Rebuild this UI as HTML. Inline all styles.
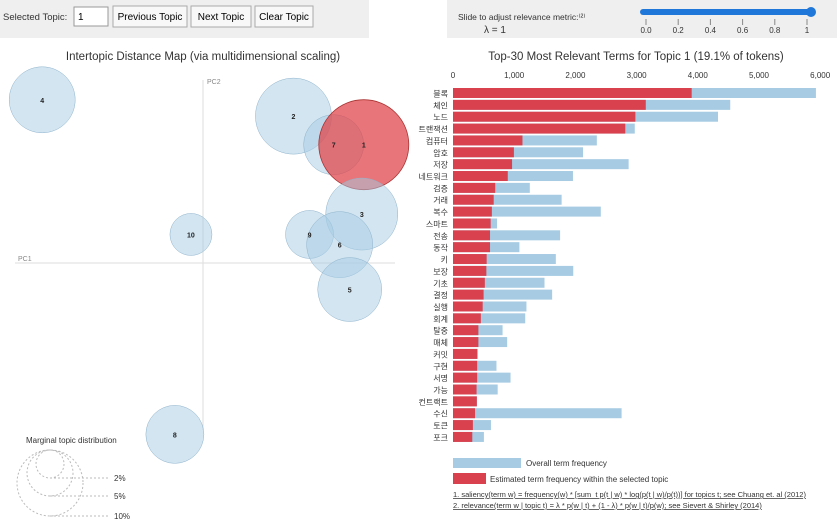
<!DOCTYPE html>
<html><head><meta charset="utf-8">
<style>
body{margin:0;width:837px;height:522px;overflow:hidden;background:#fff;font-family:"Liberation Sans","Noto Sans CJK KR",sans-serif;}
svg text{font-family:"Liberation Sans","Noto Sans CJK KR",sans-serif;}
</style></head>
<body>
<svg id="c" width="837" height="522">
  <rect x="0" y="0" width="369" height="38" fill="#efefef"/>
  <text x="3" y="20" font-size="9.5" fill="#333">Selected Topic:</text>
  <rect x="74" y="7" width="34" height="19" fill="#fff" stroke="#999"/>
  <text x="78" y="20" font-size="10">1</text>
  <rect x="113" y="6" width="74" height="21" fill="#f8f8f8" stroke="#aaa"/>
  <text x="150" y="20" font-size="10" text-anchor="middle">Previous Topic</text>
  <rect x="191" y="6" width="60" height="21" fill="#f8f8f8" stroke="#aaa"/>
  <text x="221" y="20" font-size="10" text-anchor="middle">Next Topic</text>
  <rect x="255" y="6" width="58" height="21" fill="#f8f8f8" stroke="#aaa"/>
  <text x="284" y="20" font-size="10" text-anchor="middle">Clear Topic</text>

  <rect x="447" y="0" width="390" height="38" fill="#efefef"/>
  <text x="458" y="20" font-size="8.5" fill="#333">Slide to adjust relevance metric:⁽²⁾</text>
  <text x="484" y="33" font-size="10" fill="#333">λ = 1</text>
  <line x1="643" y1="12" x2="811" y2="12" stroke="#1f77d9" stroke-width="6" stroke-linecap="round"/>
  <circle cx="811" cy="12" r="5" fill="#1f77d9"/>
  <g id="sliderTicks"></g>

  <text x="203" y="60" font-size="11.5" fill="#333" text-anchor="middle">Intertopic Distance Map (via multidimensional scaling)</text>
  <text x="636" y="60" font-size="11.5" fill="#333" text-anchor="middle">Top-30 Most Relevant Terms for Topic 1 (19.1% of tokens)</text>

  <line x1="203" y1="80" x2="203" y2="430" stroke="#ddd"/>
  <line x1="15" y1="263" x2="395" y2="263" stroke="#ddd"/>
  <text x="207" y="84" font-size="7" fill="#888">PC2</text>
  <text x="18" y="261" font-size="7" fill="#888">PC1</text>
  <g id="topics"></g>

  <text x="26" y="443" font-size="8" fill="#333">Marginal topic distribution</text>
  <g id="marg"></g>

  <g id="bars"></g>

  <rect x="453" y="458" width="68" height="10" fill="#a6cbe3"/>
  <text x="526" y="466" font-size="8" fill="#333">Overall term frequency</text>
  <rect x="453" y="473" width="33" height="11" fill="#d9414f"/>
  <text x="490" y="482" font-size="8" fill="#333">Estimated term frequency within the selected topic</text>
  <text x="453" y="497" font-size="7.5" fill="#333" text-decoration="underline">1. saliency(term w) = frequency(w) * [sum_t p(t | w) * log(p(t | w)/p(t))] for topics t; see Chuang et. al (2012)</text>
  <text x="453" y="508" font-size="7.5" fill="#333" text-decoration="underline">2. relevance(term w | topic t) = λ * p(w | t) + (1 - λ) * p(w | t)/p(w); see Sievert &amp; Shirley (2014)</text>
</svg>
<script>
const NS="http://www.w3.org/2000/svg";
const terms=["블록","체인","노드","트랜잭션","컴퓨터","암호","저장","네트워크","검증","거래","복수","스마트","전송","동작","키","보장","기초","결정","실행","회계","탈중","매체","커밋","구현","서명","가능","컨트랙트","수신","토큰","포크"];
const overall=[5930,4530,4330,2970,2350,2125,2870,1960,1255,1775,2415,720,1750,1085,1680,1965,1495,1620,1200,1180,810,885,400,710,940,730,390,2755,620,505];
const estimated=[3900,3150,2980,2815,1135,995,965,895,690,665,635,615,605,605,550,545,520,500,485,455,415,415,400,395,395,385,390,360,325,315];
const xTicks=[0,1000,2000,3000,4000,5000,6000];
const sliderTicks=["0.0","0.2","0.4","0.6","0.8","1"];
const topicIds=[4,2,7,1,3,10,9,6,5,8];
const topicX=[-0.40,0.225,0.325,0.40,0.395,-0.03,0.265,0.34,0.365,-0.07];
const topicY=[0.40,0.36,0.29,0.29,0.12,0.07,0.07,0.045,-0.065,-0.42];
const topicR=[33,38,30,45,36,21,24,33,32,29];
const margPct=["2%","5%","10%"];
const margR=[14,23,33];

function el(tag,attrs,parent){const e=document.createElementNS(NS,tag);for(const k in attrs)e.setAttribute(k,attrs[k]);parent.appendChild(e);return e;}
const xs=v=>453+v*0.0612;
const bx=v=>203+v*402;
const by=v=>263-v*408;

const sT=document.getElementById('sliderTicks');
sliderTicks.forEach((t,i)=>{const x=646+i*32.2;
  const l=el('line',{x1:x,y1:19,x2:x,y2:25,stroke:'#888'},sT);
  
  
  const tx=el('text',{x:x,y:33,'font-size':8,'text-anchor':'middle',fill:'#333'},sT);tx.textContent=t;
  
  
});

const tg=document.getElementById('topics');
topicIds.forEach((id,i)=>{const sel=id===1;
  const c=el('circle',{cx:bx(topicX[i]),cy:by(topicY[i]),r:topicR[i],fill:sel?'#e0474c':'#a6cbe3','fill-opacity':sel?0.75:0.5,stroke:sel?'#a33':'#8fb3cc','stroke-width':sel?0.8:0.5},tg);
  
  
});
topicIds.forEach((id,i)=>{
  const t=el('text',{x:bx(topicX[i]),y:by(topicY[i])+3,'font-size':7,'font-weight':'bold','text-anchor':'middle',fill:'#222'},tg);t.textContent=id;
  
  
});

const mg=document.getElementById('marg');
margR.forEach((r,i)=>{const cx=50,top=450;
  const c=el('circle',{cx:cx,cy:top+r,r:r,fill:'none',stroke:'#bbb','stroke-dasharray':'2,2'},mg);
  
  
  const l=el('line',{x1:cx,y1:top+2*r,x2:108,y2:top+2*r,stroke:'#bbb','stroke-dasharray':'2,2'},mg);
  
  
  const t=el('text',{x:114,y:top+2*r+3,'font-size':8,fill:'#333'},mg);t.textContent=margPct[i];
  
  
});

const bg=document.getElementById('bars');
xTicks.forEach(v=>{
  const t=el('text',{x:xs(v),y:78,'font-size':8,'text-anchor':'middle',fill:'#333'},bg);t.textContent=v.toLocaleString('en-US');
  
  
});
terms.forEach((term,i)=>{const y=88+i*11.86;
  const b=el('rect',{x:xs(0),y:y,width:xs(overall[i])-xs(0),height:10,fill:'#a6cbe3'},bg);
  
  
  const r=el('rect',{x:xs(0),y:y,width:xs(estimated[i])-xs(0),height:10,fill:'#d9414f'},bg);
  
  
  const t=el('text',{x:448,y:y+8.5,'font-size':8,'text-anchor':'end',fill:'#333'},bg);t.textContent=term;
  
  
});
</script>
</body></html>
